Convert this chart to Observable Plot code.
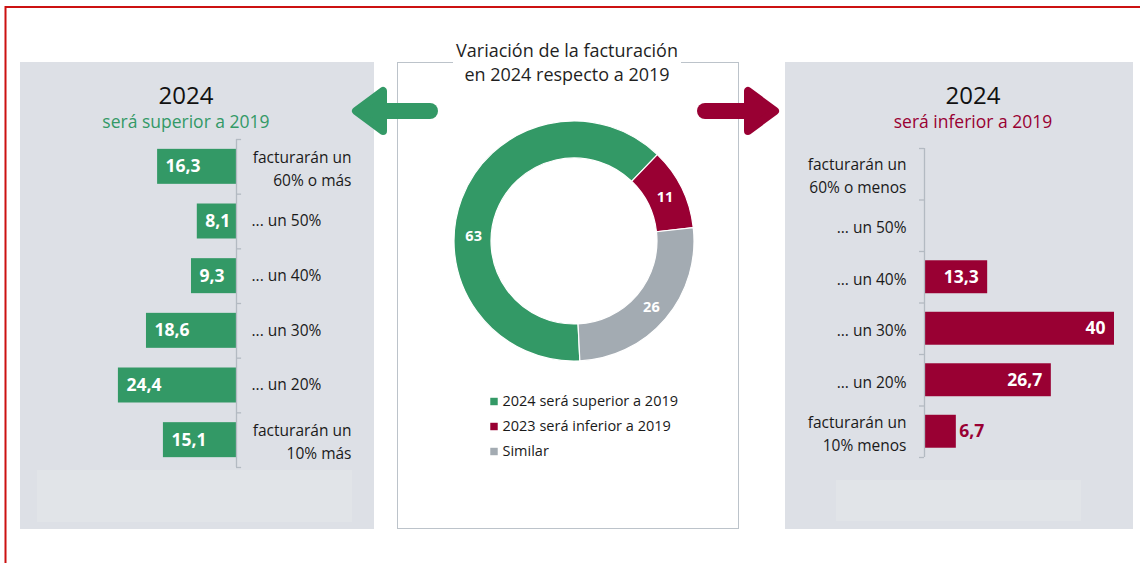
<!DOCTYPE html>
<html><head><meta charset="utf-8">
<script src="https://cdn.jsdelivr.net/npm/d3@7"></script>
<script src="https://cdn.jsdelivr.net/npm/@observablehq/plot@0.6"></script>
<style>
body{margin:0;background:#fff;font-family:'Open Sans','Noto Sans',sans-serif;}
#page{position:relative;width:1140px;height:563px;overflow:hidden;background:#fff;}
.abs{position:absolute;}
.hd{text-align:center;white-space:nowrap;}
</style></head><body><div id="page"></div>
<script>
// ---------- data ----------
const leftCategories = ["facturarán un\n60% o más", "... un 50%", "... un 40%", "... un 30%", "... un 20%", "facturarán un\n10% más"];
const leftValues = [16.3, 8.1, 9.3, 18.6, 24.4, 15.1];
const rightCategories = ["facturarán un\n60% o menos", "... un 50%", "... un 40%", "... un 30%", "... un 20%", "facturarán un\n10% menos"];
const rightValues = [null, null, 13.3, 40, 26.7, 6.7];
const donutCategories = ["2024 será superior a 2019", "2023 será inferior a 2019", "Similar"];
const donutValues = [63, 11, 26];

// ---------- styles ----------
const GREEN = "#339966", RED = "#990033", GRAY = "#a3abb2";
const PANEL = "#dde0e6", LIGHT = "#e1e4e8", AXIS = "#b3bac2";
const FONT = "'Open Sans','Noto Sans',sans-serif";
const donutColors = [GREEN, RED, GRAY];
const fmt = v => String(v).replace(".", ",");

const page = document.getElementById("page");
function box(left, top, w, h, css = {}) {
  const d = document.createElement("div");
  d.className = "abs";
  Object.assign(d.style, {left: left + "px", top: top + "px", width: w + "px", height: h + "px"}, css);
  page.appendChild(d);
  return d;
}
function put(el, left, top) {
  const d = box(left, top, null, null);
  d.style.width = ""; d.style.height = "";
  d.appendChild(el);
  return d;
}

// panels
box(20, 62, 354, 467, {background: PANEL});
box(37, 470, 315, 52, {background: LIGHT});
box(785, 62, 348, 467, {background: PANEL});
box(836, 480, 245, 41, {background: LIGHT});
box(397, 62, 342, 467, {border: "1px solid #bcc3ca", boxSizing: "border-box", background: "#fff"});

// headings
function heading(cx, top, text, size, lh, color) {
  const d = box(cx - 150, top, 300, lh, {fontSize: size + "px", lineHeight: lh + "px", color});
  d.className = "abs hd";
  d.textContent = text;
}
heading(186, 81, "2024", 24, 28, "#111");
heading(186, 110, "será superior a 2019", 17.5, 22, GREEN);
heading(973, 81, "2024", 24, 28, "#111");
heading(973, 110, "será inferior a 2019", 17.5, 22, RED);

const t = box(453, 38, 228, 48, {background: "#fff", fontSize: "18px", lineHeight: "24px", color: "#1f1f1f"});
t.className = "abs hd";
t.innerHTML = "Variación de la facturación<br>en 2024 respecto a 2019";

// ---------- bar charts ----------
function barChart(cats, vals, {width, height, axisX, pxPerUnit, dir, y0, y1, color, labelInside}) {
  const data = cats.map((c, i) => ({i, cat: c, value: vals[i]}));
  const bars = data.filter(d => d.value != null);
  const maxU = 45;
  const marks = [
    Plot.rect(bars, {x1: 0, x2: "value", y1: d => d.i + 0.18, y2: d => d.i + 0.82, fill: color}),
    Plot.ruleX([0], {y1: 0, y2: cats.length, stroke: AXIS, strokeWidth: 1.3}),
    Plot.ruleY(d3.range(cats.length + 1), {x1: 0, x2: -1.05, stroke: AXIS, strokeWidth: 1.3}),
    // value labels inside bars
    Plot.text(bars.filter(d => d.value >= 8), {
      x: "value", y: d => d.i + 0.5, text: d => fmt(d.value),
      dx: dir < 0 ? 8 : -9, textAnchor: dir < 0 ? "start" : "end",
      fill: "white", fontWeight: "bold", fontSize: 17.5
    }),
    // value labels outside small bars
    Plot.text(bars.filter(d => d.value < 8), {
      x: "value", y: d => d.i + 0.5, text: d => fmt(d.value),
      dx: dir < 0 ? -3 : 3, textAnchor: dir < 0 ? "end" : "start",
      fill: color, fontWeight: "bold", fontSize: 17.5
    })
  ];
  if (dir < 0) {
    marks.push(
      Plot.text(data.filter(d => !d.cat.includes("\n")), {x: 0, y: d => d.i + 0.5, text: "cat", dx: 15, textAnchor: "start", fontSize: 15.5, fill: "#1a1a1a"}),
      Plot.text(data.filter(d => d.cat.includes("\n")), {x: 0, y: d => d.i + 0.5, text: "cat", dx: 115, textAnchor: "end", fontSize: 15.5, lineHeight: 1.5, fill: "#1a1a1a"})
    );
  } else {
    marks.push(
      Plot.text(data, {x: 0, y: d => d.i + 0.5, text: "cat", dx: -18, textAnchor: "end", fontSize: 15.5, lineHeight: 1.5, fill: "#1a1a1a"})
    );
  }
  return Plot.plot({
    width, height, margin: 0,
    style: {background: "transparent", fontFamily: FONT, fontSize: "15.5px", overflow: "visible"},
    x: {domain: [0, maxU], range: [axisX, axisX + dir * maxU * pxPerUnit], axis: null},
    y: {domain: [0, cats.length], range: [y0, y1], axis: null},
    marks
  });
}

put(barChart(leftCategories, leftValues, {width: 354, height: 467, axisX: 216, pxPerUnit: 4.84, dir: -1, y0: 77, y1: 405, color: GREEN}), 20, 62);
put(barChart(rightCategories, rightValues, {width: 348, height: 467, axisX: 139, pxPerUnit: 4.75, dir: 1, y0: 86, y1: 395, color: RED}), 785, 62);

// ---------- donut ----------
const OUTER = 120, INNER = 83, LABEL_R = 101;
const START = 177.2 * Math.PI / 180;
const donutData = donutCategories.map((name, i) => ({name, value: donutValues[i]}));
const arcs = d3.pie().sort(null).value(d => d.value).startAngle(START).endAngle(START + 2 * Math.PI)(donutData);
const labelAngleOverride = {0: 273 * Math.PI / 180}; // Excel nudges the big slice label
const labels = arcs.map((a, i) => {
  const ang = labelAngleOverride[i] ?? (a.startAngle + a.endAngle) / 2;
  return {lx: LABEL_R * Math.sin(ang), ly: LABEL_R * Math.cos(ang), text: String(a.data.value)};
});
function donutMark(index, scales) {
  const cx = scales.x(0), cy = scales.y(0);
  const rO = scales.x(OUTER) - cx, rI = scales.x(INNER) - cx;
  const g = d3.create("svg:g").attr("transform", `translate(${cx},${cy})`);
  g.selectAll("path").data(arcs).join("path")
    .attr("d", d3.arc().innerRadius(rI).outerRadius(rO))
    .attr("fill", d => scales.color(d.data.name))
    .attr("stroke", "white").attr("stroke-width", 1.2);
  return g.node();
}
const donut = Plot.plot({
  width: 260, height: 260, margin: 0,
  style: {background: "transparent", fontFamily: FONT, overflow: "visible"},
  x: {domain: [-130, 130], range: [0, 260], axis: null},
  y: {domain: [-130, 130], range: [260, 0], axis: null},
  color: {domain: donutCategories, range: donutColors},
  marks: [
    Plot.dot(donutData, {x: 0, y: 0, fill: "name", r: 0}),
    donutMark,
    Plot.text(labels, {x: "lx", y: "ly", text: "text", fill: "white", fontWeight: "bold", fontSize: 14.5})
  ]
});
put(donut, 444, 111);

// legend
const legend = Plot.plot({
  width: 220, height: 75, margin: 0,
  style: {background: "transparent", fontFamily: FONT, overflow: "visible"},
  y: {domain: donutCategories, range: [0, 75], axis: null},
  color: {domain: donutCategories, range: donutColors},
  marks: [
    Plot.dot(donutCategories, {y: d => d, fill: d => d, symbol: "square", r: 4.2, frameAnchor: "left", dx: 5.5}),
    Plot.text(donutCategories, {y: d => d, text: d => d, frameAnchor: "left", dx: 14, textAnchor: "start", fontSize: 14.5, fill: "#1a1a1a"})
  ]
});
put(legend, 488, 388);

// ---------- decorations: frame and arrows ----------
const ns = "http://www.w3.org/2000/svg";
const deco = d3.create("svg").attr("width", 1140).attr("height", 563)
  .style("position", "absolute").style("left", "0px").style("top", "0px").style("pointer-events", "none");
deco.append("path").attr("d", "M5.5,563 V7 H1140").attr("fill", "none").attr("stroke", "#cc1111").attr("stroke-width", 2);
// green arrow (left)
deco.append("line").attr("x1", 384).attr("x2", 430).attr("y1", 111).attr("y2", 111).attr("stroke", GREEN).attr("stroke-width", 16).attr("stroke-linecap", "round");
deco.append("polygon").attr("points", "356,111 383,91 383,131").attr("fill", GREEN).attr("stroke", GREEN).attr("stroke-width", 8).attr("stroke-linejoin", "round");
// red arrow (right)
deco.append("line").attr("x1", 705).attr("x2", 750).attr("y1", 111).attr("y2", 111).attr("stroke", RED).attr("stroke-width", 16).attr("stroke-linecap", "round");
deco.append("polygon").attr("points", "775,111 748,91 748,131").attr("fill", RED).attr("stroke", RED).attr("stroke-width", 8).attr("stroke-linejoin", "round");
page.appendChild(deco.node());
</script></body></html>
